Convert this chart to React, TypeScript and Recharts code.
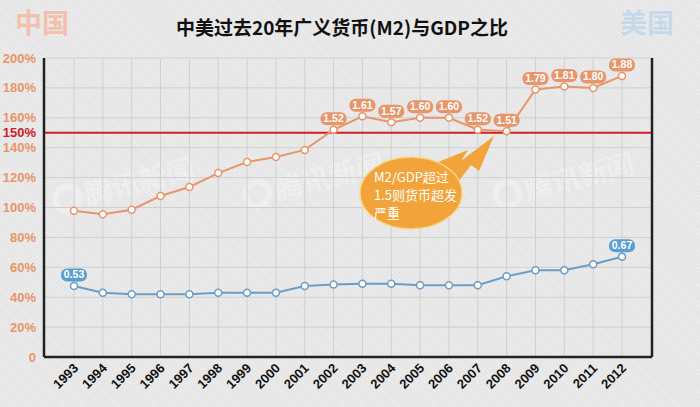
import { LineChart, Line, XAxis, YAxis, CartesianGrid, ReferenceLine, LabelList } from "recharts";

const years = ["1993", "1994", "1995", "1996", "1997", "1998", "1999", "2000", "2001", "2002", "2003", "2004", "2005", "2006", "2007", "2008", "2009", "2010", "2011", "2012"];
// M2/GDP in percent
const chinaRatio = [97.9, 95.5, 98.5, 107.7, 113.7, 123, 130.4, 133.8, 138.5, 152, 161, 157, 160, 160, 152, 151, 179, 181, 180, 188];
const chinaLabels = ["", "", "", "", "", "", "", "", "", "1.52", "1.61", "1.57", "1.60", "1.60", "1.52", "1.51", "1.79", "1.81", "1.80", "1.88"];
const usRatio = [47.5, 43, 42, 42, 42, 43, 43, 43, 47.5, 48.5, 49, 49, 48, 48, 48, 54, 58, 58, 62, 67];
const usLabels = ["0.53", "", "", "", "", "", "", "", "", "", "", "", "", "", "", "", "", "", "", "0.67"];
const yTicks = [0, 20, 40, 60, 80, 100, 120, 140, 150, 160, 180, 200];
const threshold = 150;

const ORANGE = "#e8956a";
const BLUE = "#6a9ec7";
const RED = "#d0202a";
const LATIN = "'Liberation Sans', Arial, sans-serif";
const CJK = "'Noto Sans CJK SC', sans-serif";

const data = years.map((year, i) => ({
  year,
  china: chinaRatio[i],
  us: usRatio[i],
  cnLabel: chinaLabels[i],
  usLabel: usLabels[i],
}));

const fmt = (v: number) => (v === 0 ? "0" : `${v}%`);

function LeftTick({ x, y, payload }: any) {
  const hot = payload.value === threshold;
  return (
    <text x={x - 8} y={y} dy={4.5} textAnchor="end" fontFamily={LATIN} fontWeight="bold" fontSize={13} fill={hot ? RED : ORANGE}>
      {fmt(payload.value)}
    </text>
  );
}

function RightTick({ x, y, payload }: any) {
  const hot = payload.value === threshold;
  return (
    <text x={x + 38} y={y} dy={4.5} textAnchor="end" fontFamily={LATIN} fontWeight="bold" fontSize={13} fill={hot ? RED : BLUE}>
      {fmt(payload.value)}
    </text>
  );
}

function YearTick({ x, y, payload }: any) {
  return (
    <g transform={`translate(${x + 5},${y + 12}) rotate(-45)`}>
      <text textAnchor="end" fontFamily={LATIN} fontWeight="bold" fontSize={13} fill="#111">
        {payload.value}
      </text>
    </g>
  );
}

const badge = (color: string) => (props: any) => {
  const { x, y, value } = props;
  if (!value) return null;
  return (
    <g>
      <rect x={x - 13} y={y - 17.5} width={26} height={13} rx={6} fill={color} />
      <text x={x} y={y - 7.5} textAnchor="middle" fontFamily={LATIN} fontWeight="bold" fontSize={10.5} fill="#fff">
        {value}
      </text>
    </g>
  );
};

// faint "腾讯新闻" watermarks
const marks = [
  [120, 195], [310, 190], [560, 190],
];

export default function App() {
  return (
    <div
      style={{
        position: "absolute",
        left: 0,
        top: 0,
        width: 700,
        height: 407,
        overflow: "hidden",
        background: "repeating-linear-gradient(45deg, #ececec 0px, #ececec 1px, #e6e6e6 1px, #e6e6e6 3px)",
      }}
    >
      <svg width={700} height={407} style={{ position: "absolute", left: 0, top: 0 }}>
        {marks.map(([mx, my], i) => (
          <g key={i} transform={`translate(${mx},${my}) rotate(-14)`} opacity={0.6}>
            <circle cx={-52} cy={-9} r={12} fill="none" stroke="#f3f3f3" strokeWidth={6} />
            <text x={-34} y={2} fontFamily={CJK} fontWeight="bold" fontSize={28} fill="#f3f3f3">
              腾讯新闻
            </text>
          </g>
        ))}
      </svg>
      <LineChart
        width={700}
        height={407}
        data={data}
        margin={{ top: 58, right: 0, left: 0, bottom: 0 }}
        style={{ position: "absolute", left: 0, top: 0 }}
      >
        <CartesianGrid yAxisId="left" stroke="#d0d0d0" strokeWidth={1} />
        <XAxis
          dataKey="year"
          padding={{ left: 30, right: 30 }}
          height={50}
          tickLine={false}
          tickSize={0}
          tickMargin={0}
          interval={0}
          axisLine={{ stroke: "#222", strokeWidth: 2.5 }}
          tick={<YearTick />}
        />
        <YAxis
          yAxisId="left"
          orientation="left"
          width={44}
          domain={[0, 200]}
          ticks={yTicks}
          interval={0}
          tickLine={false}
          tickSize={0}
          tickMargin={0}
          axisLine={{ stroke: "#222", strokeWidth: 2.5 }}
          tick={<LeftTick />}
        />
        <YAxis
          yAxisId="right"
          orientation="right"
          width={48}
          domain={[0, 200]}
          ticks={yTicks}
          interval={0}
          tickLine={false}
          tickSize={0}
          tickMargin={0}
          axisLine={{ stroke: "#222", strokeWidth: 2.5 }}
          tick={<RightTick />}
        />
        <ReferenceLine yAxisId="left" y={threshold} stroke={RED} strokeWidth={2} />
        <Line
          yAxisId="left"
          dataKey="china"
          stroke={ORANGE}
          strokeWidth={2}
          dot={{ r: 3.5, fill: "#fff", stroke: ORANGE, strokeWidth: 1.5 }}
          isAnimationActive={false}
        >
          <LabelList dataKey="cnLabel" content={badge(ORANGE)} />
        </Line>
        <Line
          yAxisId="left"
          dataKey="us"
          stroke={BLUE}
          strokeWidth={2}
          dot={{ r: 3.5, fill: "#fff", stroke: BLUE, strokeWidth: 1.5 }}
          isAnimationActive={false}
        >
          <LabelList dataKey="usLabel" content={badge("#5b9fd2")} />
        </Line>
      </LineChart>
      <svg width={700} height={407} style={{ position: "absolute", left: 0, top: 0, pointerEvents: "none" }}>
        <text x={15} y={33} fontFamily={CJK} fontWeight="bold" fontSize={27} fill="#f3c0ae">
          中国
        </text>
        <text x={620} y={33} fontFamily={CJK} fontWeight="bold" fontSize={27} fill="#c6d9ea">
          美国
        </text>
        <text x={342} y={35} textAnchor="middle" fontFamily={CJK} fontWeight="bold" fontSize={19} fill="#111">
          中美过去20年广义货币(M2)与GDP之比
        </text>
        <g>
          <path d="M428 166 L468 150 L461 161 L494 136 L479 171 L471 165 L452 190 Z" fill="#f2a43a" />
          <ellipse cx={411} cy={193} rx={51} ry={36} fill="#f2a43a" stroke="#f8d58c" strokeWidth={1.5} />
          <text fontFamily={CJK} fontSize={13} fill="#fff">
            <tspan x={374} y={182}>M2/GDP超过</tspan>
            <tspan x={374} y={200}>1.5则货币超发</tspan>
            <tspan x={374} y={218}>严重</tspan>
          </text>
        </g>
      </svg>
    </div>
  );
}
